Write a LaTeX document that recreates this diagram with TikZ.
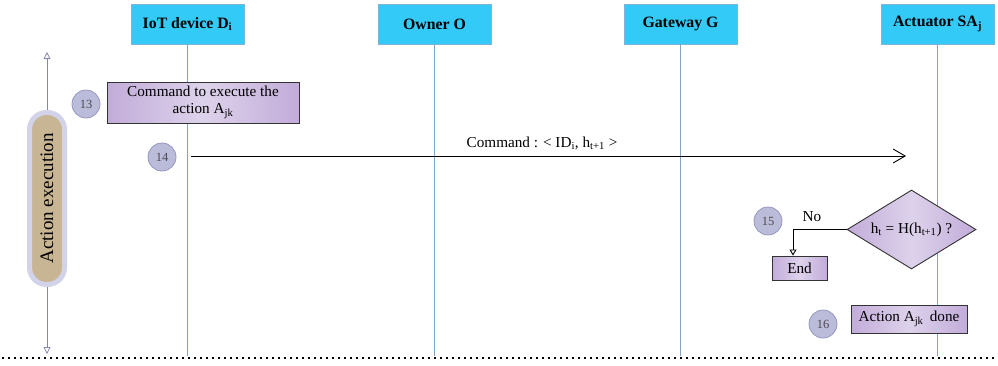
\documentclass[tikz,border=0pt]{standalone}
\usepackage{fontspec}
\setmainfont{Liberation Serif}
\usetikzlibrary{arrows.meta,shapes.geometric}
\definecolor{hdr}{HTML}{33CAF7}
\definecolor{hdrb}{HTML}{7FB4D4}
\definecolor{lifec}{HTML}{7FA6C6}
\definecolor{lifea}{HTML}{4CBCE4}
\definecolor{pdark}{HTML}{C2ACD9}
\definecolor{plight}{HTML}{DDD2EB}
\definecolor{circf}{HTML}{BBBBDA}
\definecolor{circb}{HTML}{9696BE}
\definecolor{tan}{HTML}{C8B593}
\definecolor{lav}{HTML}{D2D2E8}
\definecolor{sidec}{HTML}{8787AE}
\begin{document}
\begin{tikzpicture}[x=1pt,y=-1pt,
  hdrbox/.style={draw=hdrb,line width=0.6pt,fill=hdr,minimum width=113pt,minimum height=40pt,inner sep=0pt,font=\fontsize{15.8}{17}\selectfont\bfseries},
  life/.style={draw=lifec,line width=0.9pt},
  pbox/.style={draw=black!80,line width=0.9pt,left color=pdark,right color=pdark,middle color=plight,inner sep=0pt,font=\fontsize{15.2}{17}\selectfont,align=center},
  stepnum/.style={circle,draw=circb,line width=0.8pt,fill=circf,minimum size=28pt,inner sep=0pt,text=black!70,font=\fontsize{12.5}{12.5}\selectfont},
  txt/.style={inner sep=0pt,font=\fontsize{15.2}{17}\selectfont},
  sidearr/.style={draw=sidec,line width=0.8pt,-{Triangle[open,length=7pt,width=7pt]}}
]
\useasboundingbox (0,0) rectangle (998,365);

% lifelines
\coordinate (iotE) at (187.5,356);
\coordinate (ownE) at (434.5,356);
\coordinate (gwE) at (680.5,356);
\coordinate (actE) at (937.5,356);

\node[hdrbox] (iot) at (187.5,24) {IoT device D\textsubscript{i}};
\node[hdrbox] (own) at (434.5,24) {Owner O};
\node[hdrbox] (gw) at (680.5,24) {Gateway G};
\node[hdrbox] (act) at (937.5,24) {Actuator SA\textsubscript{j}};

\draw[life] (iot.south) -- (iotE);
\draw[life] (own.south) -- (ownE);
\draw[life] (gw.south) -- (gwE);
\draw[draw=lifea,line width=1pt] (act.south) -- (actE);

% dotted separator
\coordinate (dotL) at (2,358);
\coordinate (dotR) at (998,358);
\draw[line width=1.6pt,dash pattern=on 1.6pt off 4.4pt] (dotL) -- (dotR);

% side pill
\node[draw=lav,line width=5pt,fill=tan,rounded corners=17pt,rotate=90,minimum width=172pt,minimum height=35pt,inner sep=0pt,font=\fontsize{19}{20}\selectfont] (pill) at (47,198.5) {Action execution};
\coordinate (upT) at (47,52);
\coordinate (dnT) at (47,354);
\draw[sidearr] (pill.east) -- (upT);
\draw[sidearr] (pill.west) -- (dnT);

% step 13
\node[stepnum] (s13) at (86,104) {13};
\node[pbox,minimum width=192pt,minimum height=41pt] (cmdbox) at (203,102.5) {Command to execute the\\action A\textsubscript{jk}};

% step 14
\node[stepnum] (s14) at (162,157) {14};
\coordinate (cmdS) at (191,156);
\coordinate (cmdE) at (906,156);
\draw[line width=0.9pt,-{Straight Barb[length=12pt,width=14pt,line width=0.9pt]}] (cmdS) -- (cmdE);
\node[txt] (cmdlbl) at (542,143) {Command : < ID\textsubscript{i}, h\textsubscript{t+1} >};

% step 15
\node[stepnum] (s15) at (768,221) {15};
\node[diamond,draw=black!80,line width=0.9pt,left color=pdark,right color=pdark,middle color=plight,minimum width=129pt,minimum height=79pt,inner sep=0pt] (dia) at (911.5,229.5) {};
\node[txt] (diatxt) at (911.5,230) {h\textsubscript{t} = H(h\textsubscript{t+1}) ?};
\node[pbox,minimum width=55pt,minimum height=24pt] (endb) at (799.5,268) {End};
\node[txt] (no) at (812,217) {No};
\draw[line width=0.9pt,-{Triangle[open,length=6pt,width=7pt]}] (dia.west) -| ([xshift=-6.5pt]endb.north);

% step 16
\node[stepnum] (s16) at (823,324) {16};
\node[pbox,minimum width=116pt,minimum height=28pt] (done) at (909,319) {Action A\textsubscript{jk}\, done};
\end{tikzpicture}
\end{document}
